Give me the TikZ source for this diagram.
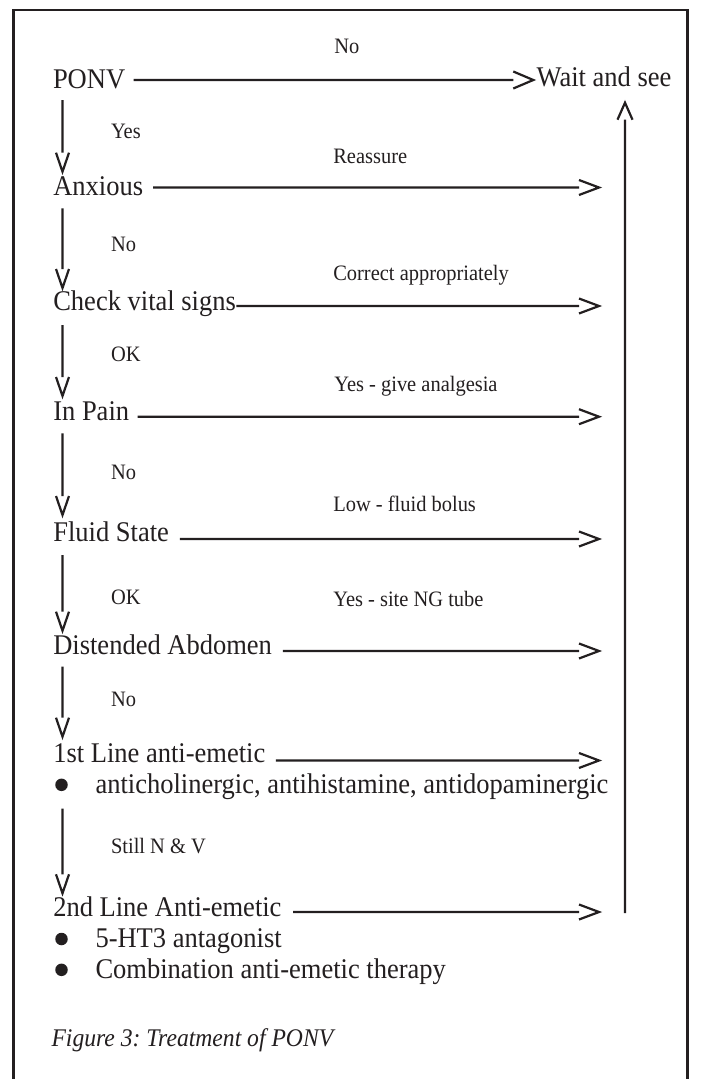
\documentclass[tikz,border=0pt]{standalone}
\usepackage{fontspec}
\setmainfont{Liberation Serif}[FakeStretch=0.93]
\definecolor{ink}{HTML}{231F20}
\frenchspacing
\begin{document}
\begin{tikzpicture}[x=1pt,y=-1pt,
  main/.style={inner sep=0pt,outer sep=0pt,anchor=base west,text=ink,font=\fontsize{28.5}{32}\selectfont},
  lbl/.style={inner sep=0pt,outer sep=0pt,anchor=base west,text=ink,font=\fontsize{22}{26}\selectfont},
  capt/.style={inner sep=0pt,outer sep=0pt,anchor=base west,text=ink,font=\fontsize{25.4}{30}\selectfont\itshape},
  bul/.style={circle,fill=ink,inner sep=0pt,minimum size=12.5pt},
  conn/.style={draw=ink,line width=2.2pt},
  frame/.style={draw=ink,line width=2.6pt},
  rarr/.style={to path={-- ([xshift=-20pt]\tikztotarget) ([xshift=-20pt,yshift=#1]\tikztotarget) -- (\tikztotarget) -- ([xshift=-20pt,yshift=-#1]\tikztotarget)}},
  rarr/.default=7.5pt,
  darr/.style={to path={-- ([yshift=19pt]\tikztotarget) ([xshift=-6.5pt,yshift=19pt]\tikztotarget) -- (\tikztotarget) -- ([xshift=6.5pt,yshift=19pt]\tikztotarget)}},
  uarr/.style={to path={-- ([yshift=-17pt]\tikztotarget) ([xshift=-7.5pt,yshift=-17pt]\tikztotarget) -- (\tikztotarget) -- ([xshift=7.5pt,yshift=-17pt]\tikztotarget)}}
]
\useasboundingbox (0,0) rectangle (708,1079);
\fill[white] (0,0) rectangle (708,1079);
% frame (open at the bottom)
\draw[frame] (13.3,1079) -- (13.3,10) -- (687.5,10) -- (687.5,1079);

% main nodes
\node[main] (ponv)   at (53,88.3)    {PONV};
\node[main] (wait)   at (536.7,86)   {Wait and see};
\node[main] (anx)    at (53.3,195)   {Anxious};
\node[main] (chk)    at (53.3,310)   {Check vital signs};
\node[main] (pain)   at (53.3,420)   {In Pain};
\node[main] (fluid)  at (53.3,541.3) {Fluid State};
\node[main] (dist)   at (53.3,654.3) {Distended Abdomen};
\node[main] (first)  at (53.3,762.7) {1st Line anti-emetic};
\node[bul]  (b1)     at (61.5,784.8) {};
\node[main] (b1t)    at (95.5,793.3) {anticholinergic, antihistamine, antidopaminergic};
\node[main] (second) at (53.3,916.7) {2nd Line Anti-emetic};
\node[bul]  (b2)     at (61.5,939)   {};
\node[main] (b2t)    at (95.5,947.5) {5-HT3 antagonist};
\node[bul]  (b3)     at (61.5,969.8) {};
\node[main] (b3t)    at (95.5,978.3) {Combination anti-emetic therapy};
\node[capt] (cap)    at (51.5,1046.7) {Figure 3: Treatment of PONV};

% labels
\node[lbl] (l0) at (334.3,53.3)  {No};
\node[lbl] (l1) at (111,138.3)   {Yes};
\node[lbl] (l2) at (333.3,163.3) {Reassure};
\node[lbl] (l3) at (111,251.7)   {No};
\node[lbl] (l4) at (333.3,280)   {Correct appropriately};
\node[lbl] (l5) at (111,361.7)   {OK};
\node[lbl] (l6) at (334.3,391)   {Yes - give analgesia};
\node[lbl] (l7) at (111,479.3)   {No};
\node[lbl] (l8) at (333.3,511.7) {Low - fluid bolus};
\node[lbl] (l9) at (111,604.3)   {OK};
\node[lbl] (l10) at (333.3,606.7) {Yes - site NG tube};
\node[lbl] (l11) at (111,706.7)  {No};
\node[lbl] (l12) at (111,853.3)  {Still N \& V};

% horizontal arrow tips
\coordinate (h0) at (533.3,80);
\coordinate (h1) at (599,187.5);
\coordinate (h2) at (599,306);
\coordinate (h3) at (599,416.7);
\coordinate (h4) at (599,539);
\coordinate (h5) at (599,651);
\coordinate (h6) at (599,760.5);
\coordinate (h7) at (599,912);

\draw[conn,rarr=8.5pt] ([xshift=8.4pt]ponv.east |- h0) to (h0);
\draw[conn,rarr] ([xshift=10pt]anx.east |- h1) to (h1);
\draw[conn,rarr] ([xshift=0.5pt]chk.east |- h2) to (h2);
\draw[conn,rarr] ([xshift=8.4pt]pain.east |- h3) to (h3);
\draw[conn,rarr] ([xshift=11pt]fluid.east |- h4) to (h4);
\draw[conn,rarr] ([xshift=11pt]dist.east |- h5) to (h5);
\draw[conn,rarr] ([xshift=10.6pt]first.east |- h6) to (h6);
\draw[conn,rarr] ([xshift=11.7pt]second.east |- h7) to (h7);

% vertical arrow tips
\coordinate (v1) at (62.5,171.7);
\coordinate (v2) at (62.5,288);
\coordinate (v3) at (62.5,396);
\coordinate (v4) at (62.5,515);
\coordinate (v5) at (62.5,630.7);
\coordinate (v6) at (62.5,736.7);
\coordinate (v7) at (62.5,893.3);

\draw[conn,darr] ([yshift=-11.7pt]ponv.base west -| v1) to (v1);
\draw[conn,darr] ([yshift=-13.3pt]anx.base west -| v2) to (v2);
\draw[conn,darr] ([yshift=-15pt]chk.base west -| v3) to (v3);
\draw[conn,darr] ([yshift=-13.3pt]pain.base west -| v4) to (v4);
\draw[conn,darr] ([yshift=-13.7pt]fluid.base west -| v5) to (v5);
\draw[conn,darr] ([yshift=-12.4pt]dist.base west -| v6) to (v6);
\draw[conn,darr] ([yshift=-23.7pt]b1.center -| v7) to (v7);

% return arrow to "Wait and see"
\coordinate (upb) at (625,913);
\coordinate (upt) at (625,102.7);
\draw[conn,uarr] (upb) to (upt);
\end{tikzpicture}
\end{document}
